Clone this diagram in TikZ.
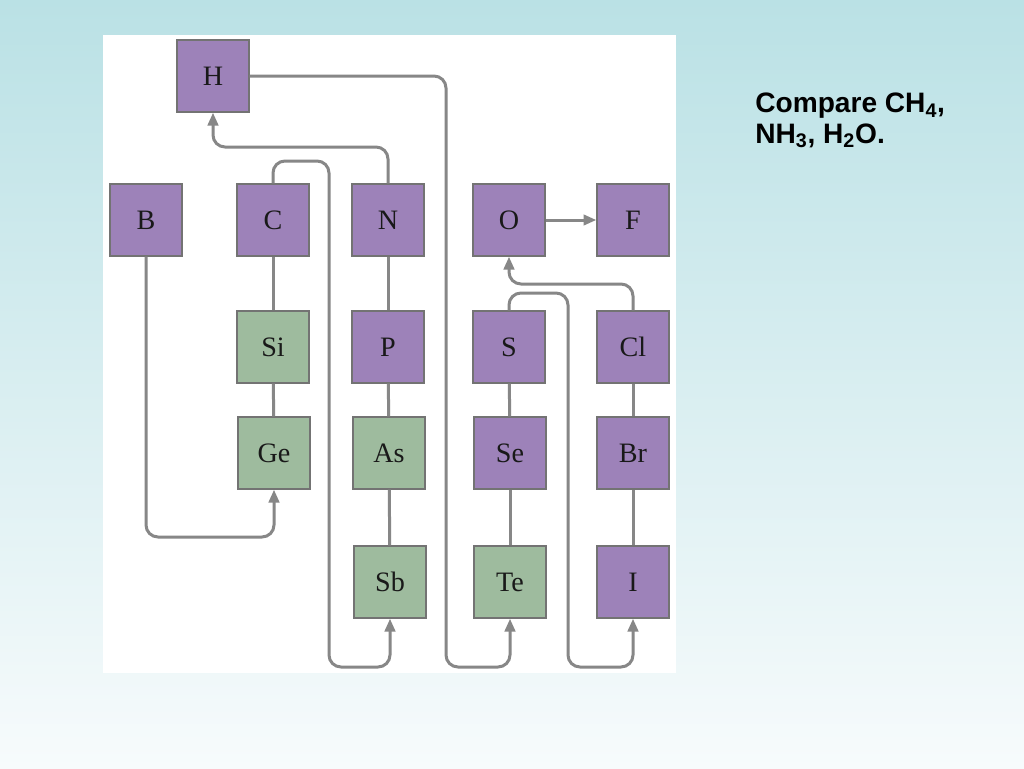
\documentclass[tikz,border=0pt]{standalone}
\usepackage{fontspec}
\setmainfont{Liberation Serif}
\newfontfamily\notefont{Liberation Sans}
\usetikzlibrary{arrows.meta}

\definecolor{skytop}{RGB}{186,225,229}
\definecolor{skymid}{RGB}{222,240,242}
\definecolor{skybot}{RGB}{247,251,252}
\definecolor{nonmetal}{RGB}{157,130,185}
\definecolor{semimetal}{RGB}{158,187,158}
\definecolor{wire}{RGB}{135,135,135}

\tikzset{
  elem/.style={draw=black!55, line width=0.35mm, minimum size=18mm, inner sep=0pt,
    text=black!90, font=\fontsize{20}{22}\selectfont},
  nm/.style={elem, fill=nonmetal},
  sm/.style={elem, fill=semimetal},
  link/.style={draw=wire, line width=0.75mm},
  jump/.style={link, rounded corners=3mm, -{Triangle[length=3.2mm,width=2.6mm]}},
}

\begin{document}
\begin{tikzpicture}[x=0.25mm, y=-0.25mm]
  % background and white panel
  \shade[top color=skytop, middle color=skymid, bottom color=skybot] (0,0) rectangle (1024,768);
  \useasboundingbox (0,0) rectangle (1024,768);
  \fill[white] (103,35) rectangle (676,673);

  % elements
  \node[nm] (H) at (213,76) {H};
  \node[nm] (B) at (146,220) {B};
  \node[nm] (C) at (273,220) {C};
  \node[nm] (N) at (388,220) {N};
  \node[nm] (O) at (509,220) {O};
  \node[nm] (F) at (633,220) {F};
  \node[sm] (Si) at (273,347) {Si};
  \node[nm] (P) at (388,347) {P};
  \node[nm] (S) at (509,347) {S};
  \node[nm] (Cl) at (633,347) {Cl};
  \node[sm] (Ge) at (274,453) {Ge};
  \node[sm] (As) at (389,453) {As};
  \node[nm] (Se) at (510,453) {Se};
  \node[nm] (Br) at (633,453) {Br};
  \node[sm] (Sb) at (390,582) {Sb};
  \node[sm] (Te) at (510,582) {Te};
  \node[nm] (I) at (633,582) {I};

  % group lines
  \foreach \a/\b in {C/Si, Si/Ge, N/P, P/As, As/Sb, S/Se, Se/Te, Cl/Br, Br/I}
    \draw[link] (\a) -- (\b);

  % diagonal relations
  \draw[jump] (B.south) |- (200,537) -| (Ge.south);
  \draw[jump] (C.north) |- (300,161) -| (329,400) |- (360,667) -| (Sb.south);
  \draw[jump] (N.north) |- (300,147) -| (H.south);
  \draw[jump] (H.east) -| (446,400) |- (480,667) -| (Te.south);
  \draw[jump] (O) -- (F);
  \draw[jump] (Cl.north) |- (570,284) -| (O.south);
  \draw[jump] (S.north) |- (540,293) -| (568,400) |- (600,667) -| (I.south);

  % note
  \node[anchor=base west, align=left, inner sep=0pt,
    font=\notefont\bfseries\fontsize{20}{21.5}\selectfont] (note) at (755,143)
    {Compare CH\textsubscript{4},\\NH\textsubscript{3}, H\textsubscript{2}O.};
\end{tikzpicture}
\end{document}
